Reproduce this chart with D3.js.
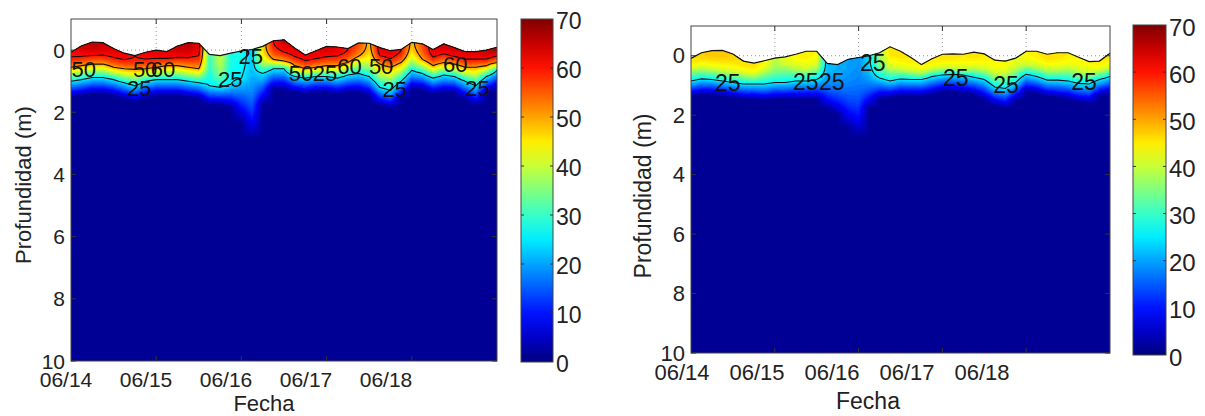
<!DOCTYPE html>
<html>
<head>
<meta charset="utf-8">
<script src="https://cdn.jsdelivr.net/npm/d3@7"></script>
<style>
  body { margin: 0; background: #fff; }
  svg { display: block; font-family: "Liberation Sans", Arial, sans-serif; }
</style>
</head>
<body>
<div id="wrapper"></div>
<script>
// ---------- data ----------
const dayLabels = ["06/14", "06/15", "06/16", "06/17", "06/18"];
const depthTicks = [0, 2, 4, 6, 8, 10];
const colorTicks = [0, 10, 20, 30, 40, 50, 60, 70];
const sampleStep = 0.125;   // days between profiles (3 h)
const floorValue = 2;       // value at the base of the warm layer
const bottomValue = 1;      // value at 10 m

// left panel: water surface (m), value at surface, depth of 50, 25 and floor
const surfLeft = [0.07, -0.14, -0.26, -0.24, -0.05, 0.10, 0.18, 0.07, 0.0, 0.05,
  -0.13, -0.24, -0.22, 0.14, 0.18, 0.10, 0.03, -0.02, -0.12, -0.30,
  -0.33, -0.07, 0.16, 0.02, -0.12, -0.10, -0.05, -0.23, -0.22, -0.08,
  0.02, -0.02, -0.25, -0.20, -0.02, -0.20, -0.08, 0.05, 0.05, 0.0, -0.09];
const topLeft = [61, 64, 66, 65, 63, 62, 60, 62, 63, 63,
  65, 66, 63, 30, 40, 28, 27, 23, 46, 60,
  65, 63, 62, 63, 64, 63, 60, 56, 48, 63,
  63, 60, 48, 56, 63, 64, 64, 63, 63, 65, 65];
const mid50Left = [0.55, 0.5, 0.45, 0.45, 0.55, 0.6, 0.62, 0.6, 0.55, 0.5,
  0.5, 0.55, 0.6, null, null, null, null, null, null, 0.3,
  0.35, 0.5, 0.6, 0.55, 0.5, 0.5, 0.4, 0.2, null, 0.45,
  0.55, 0.4, null, 0.3, 0.5, 0.4, 0.45, 0.55, 0.55, 0.5, 0.4];
const iso25Left = [1.0, 0.95, 0.88, 0.88, 0.95, 1.05, 1.15, 1.0, 0.95, 0.95,
  0.95, 1.0, 1.05, 1.15, 1.2, 1.1, 0.9, null, 0.75, 0.6,
  0.6, 0.85, 0.9, 0.85, 0.85, 0.9, 0.8, 0.75, 0.85, 1.2,
  1.3, 1.0, 0.65, 0.75, 0.9, 0.8, 0.85, 1.0, 1.15, 0.85, 0.65];
const floorLeft = [1.5, 1.45, 1.4, 1.4, 1.45, 1.55, 1.65, 1.55, 1.45, 1.45,
  1.45, 1.5, 1.55, 1.75, 1.75, 1.85, 2.3, 2.8, 1.75, 1.25,
  1.25, 1.35, 1.4, 1.35, 1.35, 1.4, 1.35, 1.35, 1.45, 1.75,
  1.85, 1.55, 1.25, 1.25, 1.4, 1.35, 1.35, 1.55, 1.75, 1.35, 1.2];
const levelsLeft = [25, 50, 60];
// [day, depth, text]
const labelsLeft = [
  [0.15, 0.64, "50"], [0.87, 0.64, "50"], [1.08, 0.61, "60"], [0.80, 1.25, "25"],
  [1.87, 0.96, "25"], [2.11, 0.22, "25"], [2.70, 0.74, "50"], [2.98, 0.74, "25"],
  [3.27, 0.54, "60"], [3.64, 0.54, "50"], [3.80, 1.28, "25"], [4.51, 0.45, "60"],
  [4.77, 1.25, "25"]
];

// right panel: water surface (m), value at surface, depth of 40, 25 and floor
const surfRight = [0.09, -0.10, -0.17, -0.18, -0.06, 0.18, 0.25, 0.17, 0.08, 0.04,
  -0.05, -0.15, -0.15, 0.26, 0.30, 0.12, 0.06, 0.0, -0.10, -0.30,
  -0.15, 0.06, 0.30, 0.10, -0.05, -0.06, -0.05, -0.12, -0.06, 0.15,
  0.18, 0.08, -0.15, -0.15, -0.05, -0.10, -0.10, 0.05, 0.20, 0.18, -0.08];
const topRight = [46, 47, 48, 48, 47, 46, 46, 44, 39, 42,
  44, 45, 44, 22, 21, 20, 19, 24, 37, 46,
  46, 45, 44, 45, 46, 46, 45, 46, 45, 44,
  44, 42, 44, 45, 46, 46, 45, 44, 44, 45, 46];
const mid40Right = [0.45, 0.4, 0.45, 0.5, 0.55, 0.6, 0.65, 0.5, null, 0.3,
  0.4, 0.45, 0.35, null, null, null, null, null, null, 0.4,
  0.45, 0.5, 0.55, 0.45, 0.4, 0.4, 0.45, 0.4, 0.45, 0.6,
  0.6, 0.4, 0.3, 0.35, 0.45, 0.45, 0.4, 0.5, 0.55, 0.5, 0.4];
const iso25Right = [0.85, 0.78, 0.8, 0.85, 0.9, 0.95, 0.95, 0.95, 0.9, 0.9,
  0.85, 0.85, 0.8, null, null, null, null, null, 0.75, 0.85,
  0.78, 0.8, 0.8, 0.7, 0.65, 0.62, 0.65, 0.72, 0.8, 1.05,
  1.1, 0.9, 0.62, 0.7, 0.82, 0.82, 0.85, 0.93, 0.95, 0.8, 0.7];
const floorRight = [1.35, 1.3, 1.3, 1.35, 1.4, 1.45, 1.45, 1.5, 1.45, 1.45,
  1.45, 1.45, 1.45, 1.75, 1.95, 2.4, 2.7, 1.75, 1.45, 1.4,
  1.35, 1.35, 1.35, 1.3, 1.2, 1.2, 1.25, 1.3, 1.45, 1.65,
  1.75, 1.5, 1.2, 1.25, 1.35, 1.4, 1.45, 1.55, 1.6, 1.35, 1.25];
const levelsRight = [25];
const labelsRight = [
  [0.44, 0.92, "25"], [1.37, 0.89, "25"], [1.68, 0.89, "25"], [2.17, 0.25, "25"],
  [3.16, 0.75, "25"], [3.76, 0.99, "25"], [4.69, 0.89, "25"]
];

async function drawChart() {

  // 1. Canvas
  const svg = d3.select("#wrapper")
    .append("svg")
      .attr("width", 1205)
      .attr("height", 416);

  // jet colour map over 0-70
  const jet = d3.scaleLinear()
    .domain([0, 8.75, 26.25, 43.75, 61.25, 70])
    .range(["#00007f", "#0000ff", "#00ffff", "#ffff00", "#ff0000", "#7f0000"])
    .clamp(true);

  drawPanel(svg, jet, {
    id: "a",
    surf: surfLeft, top: topLeft, mid: mid50Left, midLevel: 50,
    iso25: iso25Left, floor: floorLeft, levels: levelsLeft, labels: labelsLeft,
    x0: 71, x1: 497, y0: 19, y1: 361,
    tickLabelRange: [66, 466], tickLabelY: 387,
    fechaX: 264, fechaY: 411, ylabX: 23, ylabY: 185,
    cbX: 521, cbW: 32, cbY0: 19, cbY1: 362,
    font: 21
  });

  drawPanel(svg, jet, {
    id: "b",
    surf: surfRight, top: topRight, mid: mid40Right, midLevel: 40,
    iso25: iso25Right, floor: floorRight, levels: levelsRight, labels: labelsRight,
    x0: 691, x1: 1110, y0: 26, y1: 353,
    tickLabelRange: [682, 1057], tickLabelY: 380,
    fechaX: 868, fechaY: 409, ylabX: 643, ylabY: 196,
    cbX: 1133, cbW: 33, cbY0: 25, cbY1: 355,
    font: 22
  });
}

function drawPanel(svg, jet, p) {
  const gridStep = 0.05;
  const nx = p.surf.length;
  const depths = d3.range(0, 221).map(j => -1 + j * gridStep);
  const ny = depths.length;

  // 2. Scales
  const xScale = d3.scaleLinear().domain([0, 5]).range([p.x0, p.x1]);
  const yScale = d3.scaleLinear().domain([-1, 10]).range([p.y0, p.y1]);
  const labelScale = d3.scaleLinear().domain([0, 5]).range(p.tickLabelRange);
  const cScale = d3.scaleLinear().domain([0, 70]).range([p.cbY1, p.cbY0]);

  // 3. Grid of values from the profile anchors
  const profiles = p.surf.map((s, i) => {
    const dom = [s], val = [p.top[i]];
    if (p.mid[i] != null) { dom.push(p.mid[i]); val.push(p.midLevel); }
    if (p.iso25[i] != null) { dom.push(p.iso25[i]); val.push(25); }
    dom.push(p.floor[i]); val.push(floorValue);
    dom.push(10); val.push(bottomValue);
    const lin = d3.scaleLinear().domain(dom).range(val).clamp(true);
    // upper layer stays well mixed, then drops towards the first isoline
    const upper = d3.scaleLinear().domain([dom[0], dom[1]]).range([0, 1]).clamp(true);
    return z => z < dom[1]
      ? val[0] + (val[1] - val[0]) * d3.easeQuadIn(upper(z))
      : lin(z);
  });
  const values = new Array(nx * ny);
  for (let j = 0; j < ny; j++) {
    for (let i = 0; i < nx; i++) {
      values[j * nx + i] = profiles[i](depths[j]);
    }
  }

  const toPx = d3.geoTransform({
    point: function(gx, gy) {
      this.stream.point(
        xScale((gx - 0.5) * sampleStep),
        yScale(-1 + (gy - 0.5) * gridStep)
      );
    }
  });
  const path = d3.geoPath(toPx);

  // 4. Dotted grid (under the field)
  const grid = svg.append("g")
    .attr("stroke", "#9a9a9a")
    .attr("stroke-width", 1)
    .attr("stroke-dasharray", "1,3");
  grid.selectAll(".vg")
    .data(d3.range(1, 5))
    .join("line")
      .attr("x1", d => xScale(d)).attr("x2", d => xScale(d))
      .attr("y1", p.y0).attr("y2", p.y1);
  grid.selectAll(".hg")
    .data(depthTicks.slice(0, -1))
    .join("line")
      .attr("x1", p.x0).attr("x2", p.x1)
      .attr("y1", d => yScale(d)).attr("y2", d => yScale(d));

  // 5. Field
  const area = d3.area()
    .x((d, i) => xScale(i * sampleStep))
    .y0(yScale(10))
    .y1(d => yScale(d));
  svg.append("clipPath")
      .attr("id", "clip-" + p.id)
    .append("path")
      .attr("d", area(p.surf));

  const field = svg.append("g")
    .attr("clip-path", `url(#clip-${p.id})`);

  const bands = d3.contours()
    .size([nx, ny])
    .thresholds(d3.range(0, 70, 1))(values);

  field.selectAll(".band")
    .data(bands)
    .join("path")
      .attr("d", path)
      .attr("fill", d => jet(d.value + 0.5))
      .attr("stroke", d => jet(d.value + 0.5))
      .attr("stroke-width", 0.3);

  const lines = d3.contours()
    .size([nx, ny])
    .thresholds(p.levels)(values);

  field.selectAll(".iso")
    .data(lines)
    .join("path")
      .attr("d", path)
      .attr("fill", "none")
      .attr("stroke", "#111")
      .attr("stroke-width", 1.1);

  // surface outline
  svg.append("path")
    .attr("d", d3.line().x((d, i) => xScale(i * sampleStep)).y(d => yScale(d))(p.surf))
    .attr("fill", "none")
    .attr("stroke", "#111")
    .attr("stroke-width", 1.2);

  // contour labels
  svg.append("g")
    .selectAll("text")
    .data(p.labels)
    .join("text")
      .attr("x", d => xScale(d[0]))
      .attr("y", d => yScale(d[1]))
      .attr("text-anchor", "middle")
      .attr("dominant-baseline", "central")
      .attr("font-size", p.font + 1)
      .attr("fill", "#111")
      .text(d => d[2]);

  // 6. Axes box and ticks
  svg.append("rect")
    .attr("x", p.x0).attr("y", p.y0)
    .attr("width", p.x1 - p.x0).attr("height", p.y1 - p.y0)
    .attr("fill", "none")
    .attr("stroke", "#444")
    .attr("stroke-width", 1);

  const ticks = svg.append("g").attr("stroke", "#333").attr("stroke-width", 1);
  d3.range(1, 5).forEach(d => {
    ticks.append("line").attr("x1", xScale(d)).attr("x2", xScale(d)).attr("y1", p.y0).attr("y2", p.y0 + 5);
    ticks.append("line").attr("x1", xScale(d)).attr("x2", xScale(d)).attr("y1", p.y1).attr("y2", p.y1 - 5);
  });
  depthTicks.forEach(d => {
    ticks.append("line").attr("x1", p.x0).attr("x2", p.x0 + 5).attr("y1", yScale(d)).attr("y2", yScale(d));
    ticks.append("line").attr("x1", p.x1).attr("x2", p.x1 - 5).attr("y1", yScale(d)).attr("y2", yScale(d));
  });

  // tick labels
  svg.append("g")
    .selectAll("text")
    .data(depthTicks)
    .join("text")
      .attr("x", p.x0 - 6)
      .attr("y", d => yScale(d))
      .attr("text-anchor", "end")
      .attr("dominant-baseline", "central")
      .attr("font-size", p.font)
      .attr("fill", "#222")
      .text(d => d);

  svg.append("g")
    .selectAll("text")
    .data(dayLabels)
    .join("text")
      .attr("x", (d, i) => labelScale(i))
      .attr("y", p.tickLabelY)
      .attr("text-anchor", "middle")
      .attr("font-size", p.font)
      .attr("fill", "#222")
      .text(d => d);

  svg.append("text")
    .attr("x", p.fechaX)
    .attr("y", p.fechaY)
    .attr("text-anchor", "middle")
    .attr("font-size", p.font + 1)
    .attr("fill", "#222")
    .text("Fecha");

  svg.append("text")
    .attr("transform", `translate(${p.ylabX},${p.ylabY}) rotate(-90)`)
    .attr("text-anchor", "middle")
    .attr("dominant-baseline", "central")
    .attr("font-size", p.font + 1)
    .attr("fill", "#222")
    .text("Profundidad (m)");

  // 7. Colorbar
  const grad = svg.append("defs")
    .append("linearGradient")
      .attr("id", "grad-" + p.id)
      .attr("x1", 0).attr("x2", 0).attr("y1", 1).attr("y2", 0);
  grad.selectAll("stop")
    .data(d3.range(0, 71, 5))
    .join("stop")
      .attr("offset", d => d / 70)
      .attr("stop-color", d => jet(d));

  svg.append("rect")
    .attr("x", p.cbX).attr("y", p.cbY0)
    .attr("width", p.cbW).attr("height", p.cbY1 - p.cbY0)
    .attr("fill", `url(#grad-${p.id})`)
    .attr("stroke", "#444")
    .attr("stroke-width", 1);

  const cbTicks = svg.append("g").attr("stroke", "#333").attr("stroke-width", 1);
  colorTicks.slice(1, -1).forEach(d => {
    cbTicks.append("line").attr("x1", p.cbX).attr("x2", p.cbX + 3).attr("y1", cScale(d)).attr("y2", cScale(d));
    cbTicks.append("line").attr("x1", p.cbX + p.cbW).attr("x2", p.cbX + p.cbW - 3).attr("y1", cScale(d)).attr("y2", cScale(d));
  });

  svg.append("g")
    .selectAll("text")
    .data(colorTicks)
    .join("text")
      .attr("x", p.cbX + p.cbW + 3)
      .attr("y", d => cScale(d) + 2)
      .attr("dominant-baseline", "central")
      .attr("font-size", p.font + 2)
      .attr("fill", "#222")
      .text(d => d);
}

drawChart()
</script>
</body>
</html>
